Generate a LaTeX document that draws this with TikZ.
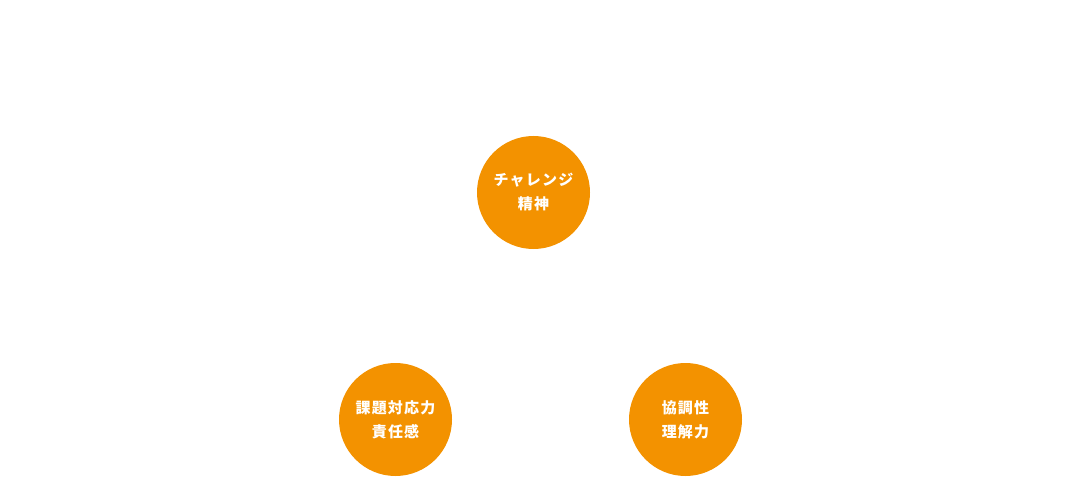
\documentclass[tikz,border=0pt]{standalone}
\usepackage{fontspec}
\newfontfamily\jp{Noto Sans CJK JP}[LetterSpace=8]
\usepackage{tikz}
\usetikzlibrary{positioning}
\definecolor{orenji}{HTML}{F39200}

\begin{document}
\begin{tikzpicture}[
  x=1pt,y=-1pt,
  maru/.style={circle,fill=orenji,minimum size=113pt,inner sep=0pt,
               align=center,text=white,
               font=\jp\bfseries\fontsize{15pt}{24pt}\selectfont}
]
  \useasboundingbox (0,0) rectangle (1080,500);
  \node[maru] (challenge) at (533.5,192.5) {チャレンジ\\精神};
  \node[maru] (kadai) at (395.5,419.5) {課題対応力\\責任感};
  \node[maru] (kyouchou) at (685.5,419.5) {協調性\\理解力};
\end{tikzpicture}
\end{document}
